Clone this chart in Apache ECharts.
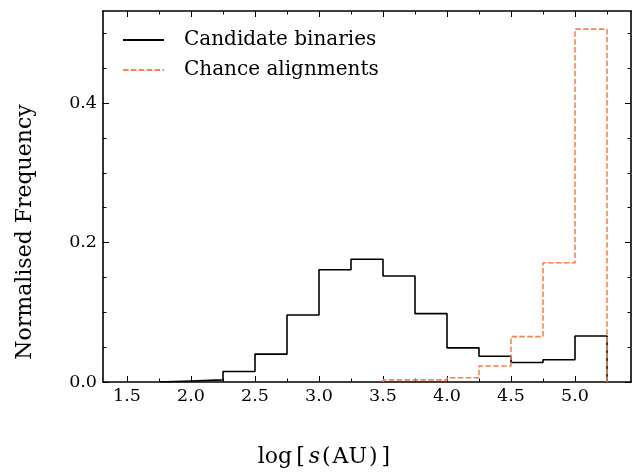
<!DOCTYPE html>
<html><head><meta charset="utf-8">
<script src="https://cdn.jsdelivr.net/npm/echarts@6/dist/echarts.min.js"></script>
<style>html,body{margin:0;padding:0;background:#fff}#c{width:638px;height:472px}</style>
</head><body><div id="c"></div>
<script>
// bin edges (log s)
const binaryEdges = [1.75, 2.0, 2.25, 2.5, 2.75, 3.0, 3.25, 3.5, 3.75, 4.0, 4.25, 4.5, 4.75, 5.0, 5.25];
const binaryValues = [0.0015, 0.003, 0.015, 0.040, 0.096, 0.161, 0.176, 0.152, 0.098, 0.049, 0.037, 0.028, 0.032, 0.066];
const chanceEdges = [3.5, 3.75, 4.0, 4.25, 4.5, 4.75, 5.0, 5.25];
const chanceValues = [0.003, 0.003, 0.006, 0.023, 0.065, 0.171, 0.506];
const xMajorTicks = [1.5, 2.0, 2.5, 3.0, 3.5, 4.0, 4.5, 5.0];
const xMinorTicks = [1.75, 2.25, 2.75, 3.25, 3.75, 4.25, 4.75, 5.25];
const yMajorTicks = [0.0, 0.2, 0.4];
const yMinorTicks = [0.05, 0.1, 0.15, 0.25, 0.3, 0.35, 0.45, 0.5];
const seriesNames = ['Candidate binaries', 'Chance alignments'];

function stepPoints(edges, vals) {
  const pts = [[edges[0], 0]];
  for (let i = 0; i < vals.length; i++) {
    pts.push([edges[i], vals[i]]);
    pts.push([edges[i + 1], vals[i]]);
  }
  pts.push([edges[edges.length - 1], 0]);
  return pts;
}

const FONT = '"DejaVu Serif", serif';
const X_MIN = 1.3125, X_MAX = 5.4375, Y_MIN = 0, Y_MAX = 0.532;
const line = { show: true, onZero: false, lineStyle: { color: '#000', width: 1.6 } };
const noLine = { show: false, onZero: false };

function xAx(pos, ticks, len, showLine, showLabel) {
  return {
    type: 'value', min: X_MIN, max: X_MAX, position: pos, gridIndex: 0,
    axisLine: showLine ? line : noLine,
    axisTick: { show: true, inside: true, length: len, customValues: ticks, lineStyle: { color: '#000', width: 1 } },
    axisLabel: showLabel ? { show: true, customValues: ticks, margin: 5, color: '#000', fontFamily: FONT, fontSize: 17.5,
      formatter: v => Number(v).toFixed(1) } : { show: false },
    splitLine: { show: false }
  };
}
function yAx(pos, ticks, len, showLine, showLabel) {
  return {
    type: 'value', min: Y_MIN, max: Y_MAX, position: pos, gridIndex: 0,
    axisLine: showLine ? line : noLine,
    axisTick: { show: true, inside: true, length: len, customValues: ticks, lineStyle: { color: '#000', width: 1 } },
    axisLabel: showLabel ? { show: true, customValues: ticks, margin: 6, color: '#000', fontFamily: FONT, fontSize: 17.5,
      formatter: v => Number(v).toFixed(1) } : { show: false },
    splitLine: { show: false }
  };
}

const chart = echarts.init(document.getElementById('c'), null, { renderer: 'canvas' });
chart.setOption({
  animation: false,
  backgroundColor: '#fff',
  grid: { left: 103, right: 7, top: 11, bottom: 90, containLabel: false },
  xAxis: [
    xAx('bottom', xMajorTicks, 6, true, true),
    xAx('bottom', xMinorTicks, 3.5, false, false),
    xAx('top', xMajorTicks, 6, true, false),
    xAx('top', xMinorTicks, 3.5, false, false)
  ],
  yAxis: [
    yAx('left', yMajorTicks, 6, true, true),
    yAx('left', yMinorTicks, 3.5, false, false),
    yAx('right', yMajorTicks, 6, true, false),
    yAx('right', yMinorTicks, 3.5, false, false)
  ],
  legend: {
    orient: 'vertical', left: 122, top: 28, padding: 0, itemWidth: 41, itemHeight: 14, itemGap: 6,
    data: seriesNames,
    itemStyle: { opacity: 0 },
    textStyle: { fontFamily: FONT, fontSize: 20, color: '#000', lineHeight: 24, padding: [0, 0, 0, 15] }
  },
  graphic: [
    {
      type: 'text', x: 325, y: 457,
      style: {
        text: '{n|log}{b|[}{i|s}{n|(}{n|AU}{n|)}{b|]}', align: 'center', verticalAlign: 'middle',
        rich: {
          n: { fontFamily: FONT, fontSize: 22, fill: '#000', padding: [0, 1, 0, 1] },
          b: { fontFamily: FONT, fontSize: 22, fill: '#000', padding: [0, 3, 0, 3] },
          i: { fontFamily: FONT, fontSize: 22, fontStyle: 'italic', fill: '#000', padding: [0, 1, 0, 1] }
        }
      }
    },
    {
      type: 'text', x: 25, y: 232, rotation: Math.PI / 2,
      style: { text: 'Normalised Frequency', align: 'center', verticalAlign: 'middle',
        fontFamily: FONT, fontSize: 22, fill: '#000' }
    }
  ],
  series: [
    { name: seriesNames[0], type: 'line', xAxisIndex: 0, yAxisIndex: 0, data: stepPoints(binaryEdges, binaryValues),
      showSymbol: false, symbol: 'none', lineStyle: { color: '#000', width: 1.6 }, itemStyle: { color: '#000' }, z: 3 },
    { name: seriesNames[1], type: 'line', xAxisIndex: 0, yAxisIndex: 0, data: stepPoints(chanceEdges, chanceValues),
      showSymbol: false, symbol: 'none', lineStyle: { color: '#ff7f50', width: 1.6, type: [5.5, 2.4] }, itemStyle: { color: '#ff7f50' }, z: 4 }
  ]
});
</script></body></html>
